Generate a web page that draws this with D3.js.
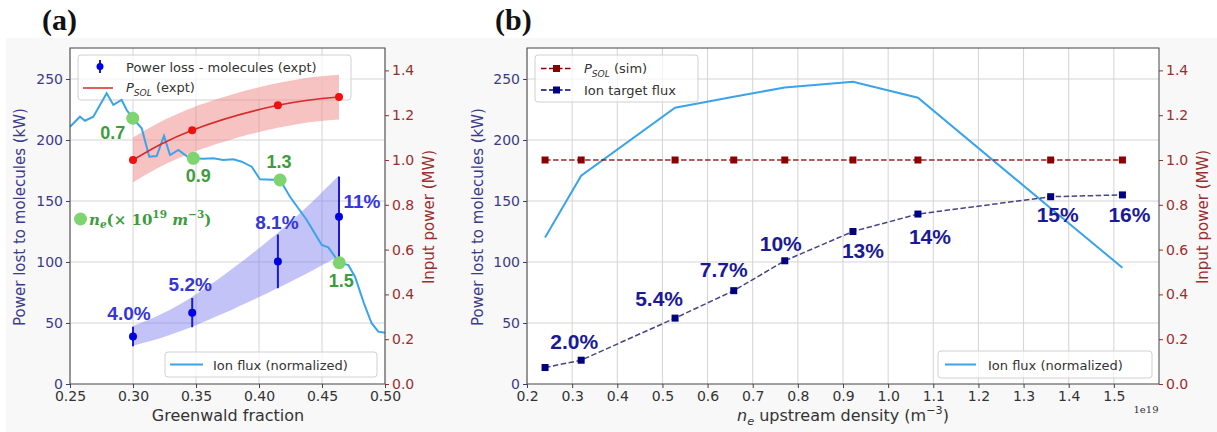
<!DOCTYPE html>
<html>
<head>
<meta charset="utf-8">
<script src="https://cdn.jsdelivr.net/npm/d3@7"></script>
<style>
  body { margin: 0; background: #fff; }
</style>
</head>
<body>
<svg id="chart" width="1217" height="432" font-family="DejaVu Sans, sans-serif"></svg>
<script>
// ---------- panel (a) data ----------
const fluxFracA = [0.25, 0.2579, 0.2619, 0.2685, 0.2791, 0.2844, 0.291, 0.295, 0.2998, 0.3069, 0.3129, 0.3188,
  0.3246, 0.3294, 0.336, 0.3439, 0.3479, 0.3558, 0.3637, 0.3717, 0.3796, 0.3863, 0.3942, 0.4008, 0.4167,
  0.4246, 0.4379, 0.4498, 0.455, 0.4637, 0.4709, 0.4762, 0.4833, 0.4894, 0.4947, 0.5];
const fluxA = [210.9, 219.1, 215.8, 219.1, 238.3, 228.7, 232.8, 224.6, 217.8, 209.6, 186.3, 186.9,
  203.3, 187.7, 191.8, 185.8, 185.0, 184.7, 185.0, 183.6, 184.2, 182.2, 178.1, 167.8, 167.2,
  153.5, 134.4, 113.9, 112.0, 99.4, 97.5, 88.0, 66.1, 49.8, 42.9, 42.0];

const lossFrac = [0.300, 0.347, 0.415, 0.4635];
const lossKW = [39, 58.5, 100.5, 137];
const lossErr = [8, 12, 22, 33];
const lossPct = ["4.0%", "5.2%", "8.1%", "11%"];
const lossBandLo = [31.4, 47, 78.7, 105];
const lossBandHi = [47.5, 71.5, 124, 171];

const psolExpt = [1.0, 1.133, 1.244, 1.281];
const psolErr = 0.1;

const neFrac = [0.2998, 0.3479, 0.4167, 0.4637];
const neKW = [217.8, 185.0, 167.2, 99.4];
const neLabels = ["0.7", "0.9", "1.3", "1.5"];

const xTicksA = [0.25, 0.30, 0.35, 0.40, 0.45, 0.50];

// ---------- panel (b) data ----------
const densB = [0.24, 0.32, 0.528, 0.658, 0.771, 0.922, 1.066, 1.36, 1.519];
const targetFluxB = [13.5, 19.5, 54, 76.5, 101, 125, 139.3, 153.5, 155];
const targetPct = ["2.0%", "5.4%", "7.7%", "10%", "13%", "14%", "15%", "16%"];
const targetPctIdx = [1, 2, 3, 4, 5, 6, 7, 8];
const psolSim = [1, 1, 1, 1, 1, 1, 1, 1, 1];
const ionFluxB = [120, 170.7, 226.5, 235.5, 243, 247.8, 234.7, 144, 95.3];
const xTicksB = [0.2, 0.3, 0.4, 0.5, 0.6, 0.7, 0.8, 0.9, 1.0, 1.1, 1.2, 1.3, 1.4, 1.5];

const yTicksL = [0, 50, 100, 150, 200, 250];
const yTicksR = [0, 0.2, 0.4, 0.6, 0.8, 1.0, 1.2, 1.4];

// ---------- styling ----------
const leftCol = "#3b3b8c", rightCol = "#9b2e2e";
const fluxCol = "#3ba3ea", greenDot = "#7ed46e", greenTxt = "#3d9c3d";
const pctBlue = "#3535dc", navy = "#000080", darkRed = "#8b0000";
const boldSans = "Liberation Sans, Arial, sans-serif";

const svg = d3.select("#chart");
svg.append("rect").attr("x", 6).attr("y", 38).attr("width", 1211).attr("height", 394).attr("fill", "#f8f8f8");

function panel(box, xDomain, xTicks, xFmt) {
  const x = d3.scaleLinear().domain(xDomain).range([box.left, box.right]);
  const yL = d3.scaleLinear().domain([0, 275.4]).range([box.bottom, box.top]);
  const yR = d3.scaleLinear().domain([0, 1.5]).range([box.bottom, box.top]);
  const g = svg.append("g");
  g.append("rect").attr("x", box.left).attr("y", box.top)
    .attr("width", box.right - box.left).attr("height", box.bottom - box.top).attr("fill", "#fff");
  const grid = g.append("g").attr("stroke", "#d4d4d4").attr("stroke-width", 1);
  grid.selectAll("line.v").data(xTicks).join("line")
    .attr("x1", d => x(d)).attr("x2", d => x(d)).attr("y1", box.top).attr("y2", box.bottom);
  grid.selectAll("line.h").data(yTicksL.slice(1)).join("line")
    .attr("y1", d => yL(d)).attr("y2", d => yL(d)).attr("x1", box.left).attr("x2", box.right);

  const ax = g.append("g").attr("transform", `translate(0,${box.bottom})`)
    .call(d3.axisBottom(x).tickValues(xTicks).tickFormat(d3.format(xFmt)).tickSize(4).tickPadding(3));
  ax.select(".domain").remove();
  ax.attr("font-family", null);
  ax.selectAll("text").attr("font-size", 14).attr("fill", "#333");
  ax.selectAll("line").attr("stroke", "#444");

  const al = g.append("g").attr("transform", `translate(${box.left},0)`)
    .call(d3.axisLeft(yL).tickValues(yTicksL).tickSize(4).tickPadding(3));
  al.select(".domain").remove();
  al.attr("font-family", null);
  al.selectAll("text").attr("font-size", 14).attr("fill", leftCol);
  al.selectAll("line").attr("stroke", leftCol);

  const ar = g.append("g").attr("transform", `translate(${box.right},0)`)
    .call(d3.axisRight(yR).tickValues(yTicksR).tickFormat(d3.format(".1f")).tickSize(4).tickPadding(3));
  ar.select(".domain").remove();
  ar.attr("font-family", null);
  ar.selectAll("text").attr("font-size", 14).attr("fill", rightCol);
  ar.selectAll("line").attr("stroke", rightCol);

  const marks = svg.append("g");
  const top = svg.append("g");
  top.append("rect").attr("x", box.left).attr("y", box.top)
    .attr("width", box.right - box.left).attr("height", box.bottom - box.top)
    .attr("fill", "none").attr("stroke", "#444").attr("stroke-width", 1);
  return {x, yL, yR, marks, top};
}

function legendBox(g, x0, y0, w, h) {
  g.append("rect").attr("x", x0).attr("y", y0).attr("width", w).attr("height", h).attr("rx", 3)
    .attr("fill", "#fff").attr("fill-opacity", 0.7).attr("stroke", "#d0d0d0");
}

function subLabel(t, main, sub, rest) {
  t.append("tspan").attr("font-style", "italic").text(main);
  t.append("tspan").attr("font-style", "italic").attr("font-size", "0.7em").attr("dy", 4).text(sub);
  t.append("tspan").attr("dy", -4).text(rest);
}

// ================= panel (a) =================
const A = panel({left: 70, right: 385, top: 48, bottom: 384}, [0.25, 0.5], xTicksA, ".2f");

// blue power-loss band
const lossArea = d3.area().curve(d3.curveNatural)
  .x((d, i) => A.x(lossFrac[i])).y0((d, i) => A.yL(lossBandLo[i])).y1((d, i) => A.yL(lossBandHi[i]));
A.marks.append("path").datum(lossFrac).attr("d", lossArea).attr("fill", "#7a7aee").attr("fill-opacity", 0.45);

// power-loss error bars
A.marks.selectAll("line.err").data(lossKW).join("line")
  .attr("x1", (d, i) => A.x(lossFrac[i])).attr("x2", (d, i) => A.x(lossFrac[i]))
  .attr("y1", (d, i) => A.yL(d - lossErr[i])).attr("y2", (d, i) => A.yL(d + lossErr[i]))
  .attr("stroke", "#1a1ad0").attr("stroke-width", 2);
A.marks.selectAll("circle.loss").data(lossKW).join("circle")
  .attr("cx", (d, i) => A.x(lossFrac[i])).attr("cy", d => A.yL(d)).attr("r", 4).attr("fill", "#0000e6");

// upper legend (a) sits under the twin-axis artists
const legA = A.marks.append("g");
legendBox(legA, 78, 55, 273, 45);
legA.append("line").attr("x1", 100).attr("x2", 100).attr("y1", 60).attr("y2", 73).attr("stroke", "#1a1ad0").attr("stroke-width", 2);
legA.append("circle").attr("cx", 100).attr("cy", 66.5).attr("r", 3.5).attr("fill", "#0000e6");
legA.append("text").attr("x", 126).attr("y", 67).attr("dominant-baseline", "central")
  .attr("font-size", 13).attr("fill", "#333").text("Power loss - molecules (expt)");
legA.append("line").attr("x1", 83).attr("x2", 113).attr("y1", 88).attr("y2", 88).attr("stroke", "#d42a2a").attr("stroke-width", 1.5);
subLabel(legA.append("text").attr("x", 126).attr("y", 92).attr("font-size", 13).attr("fill", "#333"), "P", "SOL", " (expt)");

// pink P_SOL band
const psolArea = d3.area().curve(d3.curveNatural)
  .x((d, i) => A.x(lossFrac[i])).y0(d => A.yR(d - psolErr)).y1(d => A.yR(d + psolErr));
A.marks.append("path").datum(psolExpt).attr("d", psolArea).attr("fill", "#f08585").attr("fill-opacity", 0.5);

// ion flux line
A.marks.append("path").datum(fluxFracA)
  .attr("d", d3.line().x(d => A.x(d)).y((d, i) => A.yL(fluxA[i])))
  .attr("fill", "none").attr("stroke", fluxCol).attr("stroke-width", 2);

// P_SOL fit line and points
A.marks.append("path").datum(psolExpt)
  .attr("d", d3.line().curve(d3.curveNatural).x((d, i) => A.x(lossFrac[i])).y(d => A.yR(d)))
  .attr("fill", "none").attr("stroke", "#d42a2a").attr("stroke-width", 1.5);
A.marks.selectAll("circle.ps").data(psolExpt).join("circle")
  .attr("cx", (d, i) => A.x(lossFrac[i])).attr("cy", d => A.yR(d)).attr("r", 4).attr("fill", "#ee1111");

const lossOff = [[-4, -23], [-2, -28], [-1, -39], [23, -15]];
A.marks.selectAll("text.pct").data(lossPct).join("text")
  .attr("x", (d, i) => A.x(lossFrac[i]) + lossOff[i][0]).attr("y", (d, i) => A.yL(lossKW[i]) + lossOff[i][1])
  .attr("text-anchor", "middle").attr("dominant-baseline", "central")
  .attr("font-family", boldSans).attr("font-weight", "bold").attr("font-size", 19)
  .attr("fill", pctBlue).text(d => d);

// density markers
A.marks.selectAll("circle.ne").data(neKW).join("circle")
  .attr("cx", (d, i) => A.x(neFrac[i])).attr("cy", d => A.yL(d)).attr("r", 6.5).attr("fill", greenDot);
const neOff = [[-20, 15], [5, 18], [-1, -18], [2, 18]];
A.marks.selectAll("text.ne").data(neLabels).join("text")
  .attr("x", (d, i) => A.x(neFrac[i]) + neOff[i][0]).attr("y", (d, i) => A.yL(neKW[i]) + neOff[i][1])
  .attr("text-anchor", "middle").attr("dominant-baseline", "central")
  .attr("font-family", boldSans).attr("font-weight", "bold").attr("font-size", 18)
  .attr("fill", greenTxt).text(d => d);

// lower legend (a)
legendBox(A.top, 165, 352, 212, 25);
A.top.append("line").attr("x1", 170).attr("x2", 203).attr("y1", 364.5).attr("y2", 364.5).attr("stroke", fluxCol).attr("stroke-width", 2);
A.top.append("text").attr("x", 213).attr("y", 365).attr("dominant-baseline", "central")
  .attr("font-size", 13).attr("fill", "#333").text("Ion flux (normalized)");

A.top.append("circle").attr("cx", 80.5).attr("cy", 219).attr("r", 6.5).attr("fill", greenDot);
const neLeg = A.top.append("text").attr("x", 89).attr("y", 225)
  .attr("font-family", "DejaVu Serif, serif").attr("font-weight", "bold").attr("font-size", 15).attr("fill", greenTxt);
neLeg.append("tspan").attr("font-style", "italic").text("n");
neLeg.append("tspan").attr("font-style", "italic").attr("font-size", "0.7em").attr("dy", 3).text("e");
neLeg.append("tspan").attr("dy", -3).text("(× 10");
neLeg.append("tspan").attr("font-size", "0.7em").attr("dy", -7).text("19");
neLeg.append("tspan").attr("font-style", "italic").attr("dy", 7).text(" m");
neLeg.append("tspan").attr("font-size", "0.7em").attr("dy", -7).text("−3");
neLeg.append("tspan").attr("dy", 7).text(")");

// ================= panel (b) =================
const B = panel({left: 527, right: 1159, top: 48, bottom: 384}, [0.2, 1.6], xTicksB, ".1f");

B.marks.append("path").datum(densB)
  .attr("d", d3.line().x(d => B.x(d)).y((d, i) => B.yL(ionFluxB[i])))
  .attr("fill", "none").attr("stroke", fluxCol).attr("stroke-width", 2);

B.marks.append("path").datum(densB)
  .attr("d", d3.line().x(d => B.x(d)).y((d, i) => B.yR(psolSim[i])))
  .attr("fill", "none").attr("stroke", darkRed).attr("stroke-opacity", 0.85).attr("stroke-width", 1.5).attr("stroke-dasharray", "5.5,2.5");
B.marks.selectAll("rect.ps").data(densB).join("rect")
  .attr("x", d => B.x(d) - 3.5).attr("y", (d, i) => B.yR(psolSim[i]) - 3.5).attr("width", 7).attr("height", 7).attr("fill", darkRed);

B.marks.append("path").datum(densB)
  .attr("d", d3.line().x(d => B.x(d)).y((d, i) => B.yL(targetFluxB[i])))
  .attr("fill", "none").attr("stroke", "#24246e").attr("stroke-opacity", 0.85).attr("stroke-width", 1.5).attr("stroke-dasharray", "5.5,2.5");
B.marks.selectAll("rect.tf").data(densB).join("rect")
  .attr("x", d => B.x(d) - 3.5).attr("y", (d, i) => B.yL(targetFluxB[i]) - 3.5).attr("width", 7).attr("height", 7).attr("fill", navy);

const pctOff = [[-7, -19], [-16, -20], [-10, -21], [-4, -17], [10, 19], [12, 22], [7, 18], [7, 20]];
B.marks.selectAll("text.pct").data(targetPct).join("text")
  .attr("x", (d, i) => B.x(densB[targetPctIdx[i]]) + pctOff[i][0])
  .attr("y", (d, i) => B.yL(targetFluxB[targetPctIdx[i]]) + pctOff[i][1])
  .attr("text-anchor", "middle").attr("dominant-baseline", "central")
  .attr("font-family", "Liberation Sans Narrow, Liberation Sans, Arial, sans-serif").attr("font-weight", "bold").attr("font-size", 21)
  .attr("fill", "#1a1a96").text(d => d);

// legends (b)
legendBox(B.top, 535, 55, 163, 47);
[[68.5, darkRed, "P_SOL"], [90, navy, "Ion target flux"]].forEach(([yy, c, lab]) => {
  B.top.append("line").attr("x1", 541).attr("x2", 572).attr("y1", yy).attr("y2", yy)
    .attr("stroke", c).attr("stroke-width", 1.5).attr("stroke-dasharray", "5.5,2.5");
  B.top.append("rect").attr("x", 553).attr("y", yy - 3.5).attr("width", 7).attr("height", 7).attr("fill", c);
  const t = B.top.append("text").attr("x", 584).attr("y", yy + 4.5).attr("font-size", 13).attr("fill", "#333");
  if (lab === "P_SOL") subLabel(t, "P", "SOL", " (sim)"); else t.text(lab);
});

legendBox(B.top, 938, 351, 214, 27);
B.top.append("line").attr("x1", 945).attr("x2", 976).attr("y1", 364.5).attr("y2", 364.5).attr("stroke", fluxCol).attr("stroke-width", 2);
B.top.append("text").attr("x", 988).attr("y", 365).attr("dominant-baseline", "central")
  .attr("font-size", 13).attr("fill", "#333").text("Ion flux (normalized)");

// ================= titles and axis labels =================
svg.append("text").attr("x", 42).attr("y", 30).attr("font-family", "Liberation Serif, serif")
  .attr("font-weight", "bold").attr("font-size", 30).attr("fill", "#111").text("(a)");
svg.append("text").attr("x", 495).attr("y", 30).attr("font-family", "Liberation Serif, serif")
  .attr("font-weight", "bold").attr("font-size", 30).attr("fill", "#111").text("(b)");

[[20, leftCol, "Power lost to molecules (kW)"], [429, rightCol, "Input power (MW)"],
 [478, leftCol, "Power lost to molecules (kW)"], [1203, rightCol, "Input power (MW)"]].forEach(([xx, c, s]) => {
  svg.append("text").attr("transform", `translate(${xx},217) rotate(-90)`).attr("text-anchor", "middle")
    .attr("dominant-baseline", "central").attr("font-size", 15).attr("fill", c).text(s);
});

svg.append("text").attr("x", 228).attr("y", 421).attr("text-anchor", "middle")
  .attr("font-size", 16).attr("fill", "#333").text("Greenwald fraction");
const xl = svg.append("text").attr("x", 843).attr("y", 421).attr("text-anchor", "middle")
  .attr("font-size", 16).attr("fill", "#333");
xl.append("tspan").attr("font-style", "italic").text("n");
xl.append("tspan").attr("font-style", "italic").attr("font-size", "0.7em").attr("dy", 4).text("e");
xl.append("tspan").attr("dy", -4).text(" upstream density (m");
xl.append("tspan").attr("font-size", "0.7em").attr("dy", -7).text("−3");
xl.append("tspan").attr("dy", 7).text(")");
svg.append("text").attr("x", 1146).attr("y", 413).attr("text-anchor", "middle")
  .attr("font-family", "DejaVu Serif, serif").attr("font-size", 10).attr("fill", "#333").text("1e19");
</script>
</body>
</html>
